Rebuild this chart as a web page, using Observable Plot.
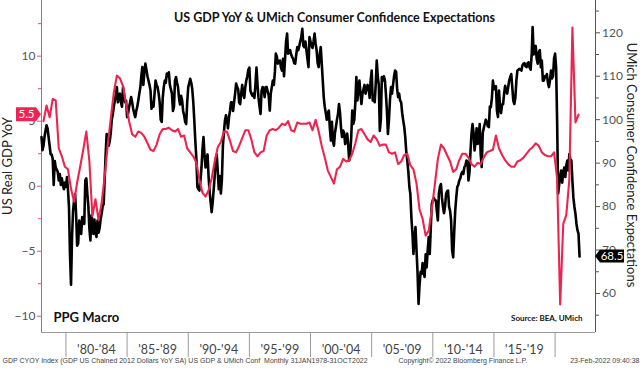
<!DOCTYPE html>
<html><head><meta charset="utf-8">
<script src="https://cdn.jsdelivr.net/npm/d3@7"></script>
<script src="https://cdn.jsdelivr.net/npm/@observablehq/plot@0.6"></script>
<style>body{margin:0;background:#fff} svg{display:block}</style>
</head><body><div id="chart"></div>
<script>
// US real GDP YoY %, quarterly 1978Q1..2021Q4 (left axis)
const gdpYoY = [
 5.0, 6.2, 5.3, 6.7,   6.6, 2.9, 2.3, 1.5,   1.3,-0.2,-1.2, 0.3,   1.5, 2.8, 4.2, 1.9,
-2.3,-1.0,-2.6,-1.3,   0.7, 3.1, 5.2, 7.2,   8.5, 8.3, 7.7, 6.3,   5.0, 4.0, 3.8, 4.2,
 4.1, 3.8, 3.3, 2.8,   2.7, 3.2, 4.0, 4.4,   4.4, 4.5, 4.3, 4.2,   4.4, 3.8, 3.9, 2.9,
 2.6, 2.3, 1.8, 0.5,  -0.5,-0.8,-0.3, 0.6,   1.9, 3.0, 3.4, 4.2,   4.2, 3.5, 2.7, 2.6,
 3.1, 3.7, 4.3, 4.3,   3.6, 2.6, 2.3, 2.6,   2.7, 3.9, 4.3, 4.4,   4.3, 4.5, 4.8, 4.7,
 5.0, 4.3, 4.2, 4.9,   4.8, 4.8, 4.8, 4.9,   4.3, 5.1, 4.2, 3.1,   2.2, 1.2, 0.7, 0.2,
 1.3, 1.5, 2.1, 1.9,   2.0, 2.5, 3.3, 4.3,   4.4, 4.0, 3.6, 3.4,   3.9, 3.6, 3.1, 3.2,
 3.2, 2.6, 2.5, 2.6,   1.7, 1.9, 2.4, 2.5,   1.6, 1.3, 0.2,-1.8,  -2.5,-3.8,-3.4,-1.8,
 0.1, 2.1, 3.2, 2.9,   2.4, 1.9, 1.1, 1.3,   2.0, 2.5, 2.5, 2.2,   1.7, 1.5, 1.8, 1.7,
 2.2, 2.6, 2.7, 2.8,   3.9, 2.9, 2.4, 2.0,   1.7, 1.5, 1.5, 1.9,   2.0, 2.2, 2.5, 2.8,
 3.0, 3.3, 3.1, 2.6,   2.4, 2.3, 2.3, 2.6,   0.6,-9.1,-2.9,-2.2,   0.5,12.2, 4.9, 5.5
];
// UMich consumer confidence expectations, monthly Jan 1978..Jan 2022 (right axis)
const umichExp = [
 96,93,94,96,97.5,98.7,98,96,94,92,92,91,
 85,90.5,89,88.5,88,86,87.5,85,86.5,85,84,85.5,
 84.5,86.8,84,79.9,69,62,73,79,81.5,82.9,78,71,
 71.5,76.8,74.5,73.7,77.6,77,76,86,86.5,83,80,75,
 72.2,78,76.8,73.7,77,74,73,76.8,74,75,77,78.3,
 80,80.6,86,92,96.7,95,94,95,97,100,101.3,103,
 104.4,106,107.5,104,105.5,106,104,103,107.5,106,104,104.4,
 100.6,101.5,102.9,104,105.2,104,102.5,101.5,100.6,102,103,104.4,
 106,107.5,110,112.1,108,111,112.9,111.5,110,109,108,106.7,
 102.5,104,103,106,109,108,107.5,106,104,100,99.5,105,
 107.5,109,108.5,110.6,110,110.9,108,107,106,102,103,109,
 109.8,108.5,107.5,105,103.5,105.5,104.5,102,101,99.5,99,104,
 107.5,108.5,109.4,108.5,107,104,99.8,95,91,84.5,84,83.7,
 86,89,93,96,92,89,91,92,86.8,83.5,81,78.7,
 81,84,87,91,92,88,84,87,83,86,94,97,
 99.8,101,100,98,100.5,102,104,104,102,104,106,108.3,
 107.5,107,104,103.6,106,108,106,105,107.5,109,110,111.5,
 112,106.7,106,105.5,106,105,108,112,108,105,103,101.3,
 106.7,107.5,107,105.2,107.5,107.5,106.5,105.5,102.1,106,107.5,109,
 108,111,115.2,114.5,112.9,113.5,113.6,112,111.3,114,110,114,
 118,119.8,115.2,115.5,116,115,114.4,114,113,112.9,115,116.7,
 116,117,118,119,120.9,117,116.7,118,116,114,112.1,119,
 118,117,116.5,118,119.8,117.5,116,113,112.1,115,116.7,113,
 109,105,103,101.5,100,101.5,102.1,98,95.2,99.5,95,94,
 97,98.5,100,101.3,103.6,101.5,98,96,97.5,97,94.4,95.5,
 96.8,94,90.6,92,96,102.1,99,100,104,109.8,104.4,107,
 109,106,103.6,106,107,108,106,107,108,107.5,105,109,
 111.3,104.4,105.2,104,108,113.6,110,108,97.4,100,109.8,109,
 110,109,106,102,96.7,100,104.5,107.5,106,108,110,111.3,
 111,107,105.2,106,104.4,104,101.5,99.8,98.3,96,92.5,90.6,
 88,84.5,82.9,77.5,74,69.1,72.5,75.3,70,65,57.6,62,
 65,64.5,67,65,63.8,69,66,70,73,69.1,75,80.6,
 81.5,82,81.5,81.4,79,76.8,83,84.5,85.2,82,79.9,78.5,
 80,82.9,83.5,83.7,80,79,76.8,70,68.3,74,79,82,
 84.5,85,86,86.5,87.5,88,87.5,89.1,89.5,90.6,90.4,86,
 88,93,96.7,99,97,92.9,95,98,94.4,96,99,92,
 89.1,97,98,99,100,99.5,98.5,98.3,103,102.9,105,109,
 107,107.5,107.7,102,100.6,106.7,103,101.5,103.5,103.6,106,107.8,
 106.5,106,107.5,109,109.8,110.5,107.5,104.4,103.6,105,109,111.3,
 111.5,111.7,111.5,111.3,112.5,112.9,113,112.3,112.1,113,113.2,112,
 111.5,115,121.3,115,116.5,117,114,112.9,115.5,116,112.1,113.6,
 109,109,110,109.8,110.5,108.5,107.5,109,111.3,109.5,110,114,
 115.2,112,100,83,85,87,88.3,85.5,88,89,86.8,89.5,
 90.6,88.3,92.1,91,90.6,86,82,79.9,78.3,76,74.5,73.7,
 68.5
];
const periodLabels = ["'80-'84","'85-'89","'90-'94","'95-'99","'00-'04","'05-'09","'10-'14","'15-'19"];
const periodStartYears = [1980,1985,1990,1995,2000,2005,2010,2015];
const separatorYears = [1980,1985,1990,1995,2000,2005,2010,2015,2020];
const leftTicks = [-10,-5,0,5,10];
const leftMinor = [-7.5,-2.5,2.5,7.5,12.5];
const rightTicks = [60,70,80,90,100,110,120];
const rightMinor = [55,65,75,85,95,105,115,125];
const leftDomain = [-11.25, 14.28];
const rightDomain = [51.02, 127.43];
const xDomain = [new Date(Date.UTC(1978,0,1)), new Date(Date.UTC(2023,3,22))];

const title = "US GDP YoY & UMich Consumer Confidence Expectations";
const leftTitle = "US Real GDP YoY";
const rightTitle = "UMich Consumer Confidence Expectations";
const footLeft = "GDP CYOY Index (GDP US Chained 2012 Dollars YoY SA) US GDP & UMich Conf  Monthly 31JAN1978-31OCT2022";
const footMid = "Copyright\u00A9 2022 Bloomberg Finance L.P.";
const footRight = "23-Feb-2022 09:40:38";

const RED = "#ee2450", AXRED = "#e8506e";

const gdp = gdpYoY.map((v,i)=>({date:new Date(Date.UTC(1978, i*3+2, 1)), v}));
const um = umichExp.map((v,i)=>({date:new Date(Date.UTC(1978, i, 1)), v}));
const toLeft = d3.scaleLinear().domain(rightDomain).range(leftDomain);

const mids = periodStartYears.map(y => new Date(Date.UTC(y+2,6,1)));
const labelOf = new Map(mids.map((d,i)=>[+d, periodLabels[i]]));

const plot = Plot.plot({
  width:640, height:368, marginTop:0, marginBottom:36, marginLeft:41, marginRight:45,
  style:{fontFamily:"Lato, 'Open Sans', sans-serif", background:"#fff", overflow:"visible"},
  x:{type:"utc", domain:xDomain},
  y:{domain:leftDomain},
  marks:[
    Plot.ruleY([leftDomain[0]], {stroke:"#9a9a9a", strokeWidth:1}),
    Plot.ruleX([xDomain[0]], {stroke:AXRED, strokeWidth:1}),
    Plot.ruleX([xDomain[1]], {stroke:"#555", strokeWidth:1}),
    Plot.axisY({ticks:leftTicks, anchor:"left", tickSize:4, tickPadding:2, stroke:AXRED, fill:"#555", fontSize:12, label:null}),
    Plot.axisY({ticks:leftMinor, anchor:"left", tickSize:3, stroke:AXRED, tickFormat:()=>"", label:null}),
    Plot.axisY({ticks:rightTicks.map(toLeft), anchor:"right", tickSize:4, tickPadding:2.5, stroke:"#555", fill:"#555", fontSize:12, tickFormat:d=>Math.round(toLeft.invert(d)), label:null}),
    Plot.axisY({ticks:rightMinor.map(toLeft), anchor:"right", tickSize:3, stroke:"#555", tickFormat:()=>"", label:null}),
    Plot.axisX({ticks:separatorYears.map(y=>new Date(Date.UTC(y,0,1))), tickSize:25, stroke:"#9a9a9a", tickFormat:()=>"", label:null}),
    Plot.axisX({ticks:mids, tickSize:0, tickPadding:13, fill:"#444", fontSize:12.5, tickFormat:d=>labelOf.get(+d), label:null}),
    Plot.line(um, {x:"date", y:d=>toLeft(d.v), stroke:"#000", strokeWidth:2.6, strokeLinejoin:"round"}),
    Plot.line(gdp, {x:"date", y:"v", stroke:RED, strokeWidth:2.1, strokeLinejoin:"round"}),
    Plot.text([title], {frameAnchor:"top", dx:16, dy:13, fontWeight:"bold", fontSize:12.5, fill:"#111", ariaLabel:"title"}),
    Plot.text(["PPG Macro"], {frameAnchor:"bottom-left", dx:12, dy:-11, textAnchor:"start", fontWeight:"bold", fontSize:13, fill:"#111"}),
    Plot.text(["Source: BEA, UMich"], {frameAnchor:"bottom-right", dx:-13, dy:-12, textAnchor:"end", fontWeight:"bold", fontSize:8, fill:"#111"}),
    Plot.text([footLeft], {frameAnchor:"bottom-left", dx:-39, dy:30.5, textAnchor:"start", fontSize:7, fill:"#444", fontFamily:"'Liberation Sans', sans-serif", ariaLabel:"footLeft"}),
    Plot.text([footMid], {frameAnchor:"bottom-left", dx:357, dy:30.5, textAnchor:"start", fontSize:7, fill:"#444", fontFamily:"'Liberation Sans', sans-serif", ariaLabel:"footMid"}),
    Plot.text([footRight], {frameAnchor:"bottom-right", dx:44, dy:30.5, textAnchor:"end", fontSize:7, fill:"#444", fontFamily:"'Liberation Sans', sans-serif", ariaLabel:"footRight"})
  ]
});
document.getElementById("chart").appendChild(plot);

const svg = d3.select(plot);
const xs = plot.scale("x"), ys = plot.scale("y");
const xl = xs.apply(xDomain[0]), xr = xs.apply(xDomain[1]);
const yMid = (ys.apply(leftDomain[0]) + ys.apply(leftDomain[1])) / 2;

// rotated axis titles
const titles = svg.append("g").attr("font-family","Lato, sans-serif").attr("font-size",13).attr("fill","#222").attr("text-anchor","middle");
titles.append("text").attr("transform",`translate(${xl-33.5},${yMid}) rotate(-90)`).attr("dy","0.35em").text(leftTitle);
titles.append("text").attr("transform",`translate(${xr+37},${yMid-1}) rotate(90)`).attr("dy","0.35em").text(rightTitle);

// value tags on the axes
const gLast = gdp[gdp.length-1].v, uLast = um[um.length-1].v;
const yg = ys.apply(gLast), yu = ys.apply(toLeft(uLast));
const fmt = d3.format(".1f");
const tags = svg.append("g");
tags.append("path").attr("d", `M${xl-25},${yg-7}H${xl-5}L${xl},${yg}L${xl-5},${yg+7}H${xl-25}Z`).attr("fill", RED);
tags.append("text").attr("x", xl-14.5).attr("y", yg).attr("dy","0.35em").attr("text-anchor","middle")
  .attr("fill","#fff").attr("font-size",11.5).attr("font-family","Lato, sans-serif").text(fmt(gLast));
tags.append("path").attr("d", `M${xr},${yu}L${xr+5},${yu-6.5}H${xr+29}V${yu+6.5}H${xr+5}Z`).attr("fill","#000");
tags.append("text").attr("x", xr+17).attr("y", yu).attr("dy","0.35em").attr("text-anchor","middle")
  .attr("fill","#fff").attr("font-size",11.5).attr("font-family","Lato, sans-serif").text(fmt(uLast));

const fit = (label, w) => svg.selectAll(`g[aria-label="${label}"] text`).attr("textLength", w).attr("lengthAdjust","spacingAndGlyphs");
fit("footLeft", 288); fit("footMid", 127); fit("footRight", 71); fit("title", 322);
</script>
</body></html>
